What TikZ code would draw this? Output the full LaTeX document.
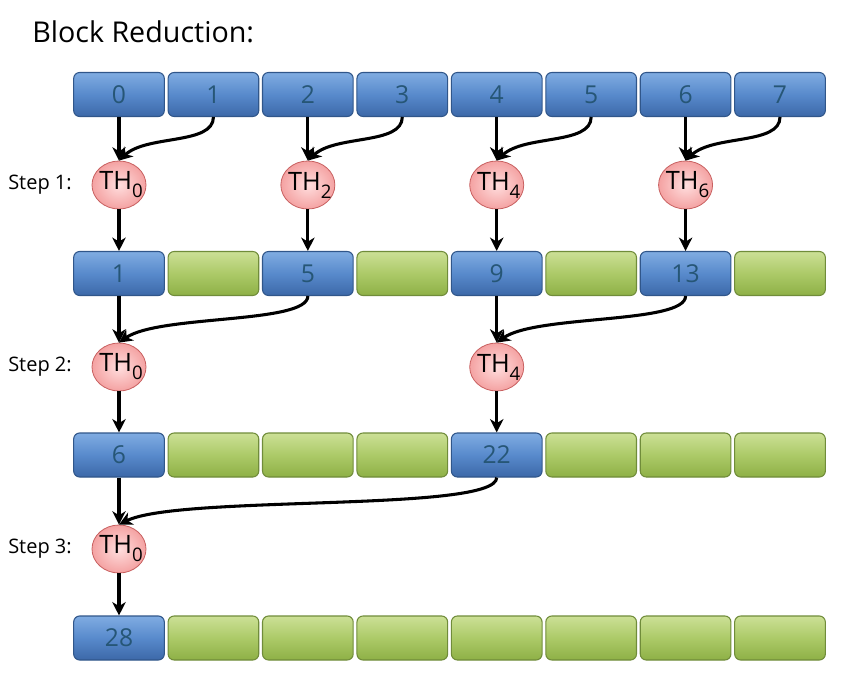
\documentclass[tikz,border=0pt]{standalone}
\usepackage{fontspec}
\setmainfont{Open Sans}
\usetikzlibrary{shapes.geometric,arrows.meta}
\definecolor{bluetop}{RGB}{128,172,226}
\definecolor{bluemid}{RGB}{88,138,204}
\definecolor{bluebot}{RGB}{60,104,168}
\definecolor{bluebd}{RGB}{48,86,138}
\definecolor{greentop}{RGB}{204,224,150}
\definecolor{greenmid}{RGB}{172,202,104}
\definecolor{greenbot}{RGB}{142,176,70}
\definecolor{greenbd}{RGB}{112,140,58}
\definecolor{numcol}{RGB}{38,86,118}
\definecolor{pinkin}{RGB}{255,222,222}
\definecolor{pinkout}{RGB}{244,162,162}
\definecolor{pinkbd}{RGB}{200,96,96}
\newcommand\thlbl[1]{\makebox[0pt]{\hspace*{3pt}TH\raisebox{-6pt}{\fontsize{14}{14}\selectfont #1}}}
\begin{document}
\begin{tikzpicture}[x=0.75pt,y=-0.75pt,
  cellbase/.style={line width=0.8pt, rounded corners=4.5pt, minimum width=68pt,
    minimum height=33pt, inner sep=0pt, font=\fontsize{18.5}{18.5}\selectfont, text=numcol},
  cellblue/.style={cellbase, draw=bluebd, top color=bluetop, bottom color=bluebot, middle color=bluemid},
  cellgreen/.style={cellbase, draw=greenbd, top color=greentop, bottom color=greenbot, middle color=greenmid},
  thread/.style={ellipse, draw=pinkbd, line width=0.6pt, inner color=pinkin, outer color=pinkout,
    minimum width=40.5pt, minimum height=36pt, inner sep=0pt, font=\fontsize{19}{19}\selectfont},
  steplbl/.style={anchor=east, font=\fontsize{15}{15}\selectfont, inner sep=0pt},
  arr/.style={line width=2.3pt, -{Stealth[length=10pt,width=10pt,inset=3pt]}}
]
\useasboundingbox (0,0) rectangle (841,677);
\fill[white] (0,0) rectangle (841,677);

\node[anchor=base west, inner sep=0pt, font=\fontsize{21.5}{21.5}\selectfont] (title) at (32,43) {Block Reduction:};

% row 1
\foreach \i in {0,...,7}
  \node[cellblue] (r1c\i) at (119+94.43*\i, 94.5) {\i};
% row 2
\foreach \i/\s/\v in {0/cellblue/1,1/cellgreen/{},2/cellblue/5,3/cellgreen/{},4/cellblue/9,5/cellgreen/{},6/cellblue/13,7/cellgreen/{}}
  \node[\s] (r2c\i) at (119+94.43*\i, 273.5) {\v};
% row 3
\foreach \i/\s/\v in {0/cellblue/6,1/cellgreen/{},2/cellgreen/{},3/cellgreen/{},4/cellblue/22,5/cellgreen/{},6/cellgreen/{},7/cellgreen/{}}
  \node[\s] (r3c\i) at (119+94.43*\i, 455) {\v};
% row 4
\foreach \i/\s/\v in {0/cellblue/28,1/cellgreen/{},2/cellgreen/{},3/cellgreen/{},4/cellgreen/{},5/cellgreen/{},6/cellgreen/{},7/cellgreen/{}}
  \node[\s] (r4c\i) at (119+94.43*\i, 638) {\v};

% step labels
\node[steplbl] (l1) at (72,185) {Step 1:};
\node[steplbl] (l2) at (72,367) {Step 2:};
\node[steplbl] (l3) at (72,549) {Step 3:};

% threads
\foreach \i in {0,2,4,6}
  \node[thread] (s1t\i) at (119+94.43*\i, 185) {\thlbl{\i}};
\node[thread] (s2t0) at (119, 367) {\thlbl{0}};
\node[thread] (s2t4) at (119+94.43*4, 367) {\thlbl{4}};
\node[thread] (s3t0) at (119, 549) {\thlbl{0}};

% step 1 arrows
\foreach \i/\j in {0/1,2/3,4/5,6/7}{
  \draw[arr] (r1c\i.south) -- (s1t\i.north);
  \draw[arr] (r1c\j.south) .. controls +(0,28) and +(28,-26) .. (s1t\i.north);
  \draw[arr] (s1t\i.south) -- (r2c\i.north);
}
% step 2 arrows
\foreach \i/\j in {0/2,4/6}{
  \draw[arr] (r2c\i.south) -- (s2t\i.north);
  \draw[arr] (r2c\j.south) .. controls +(0,28) and +(40,-28) .. (s2t\i.north);
  \draw[arr] (s2t\i.south) -- (r3c\i.north);
}
% step 3 arrows
\draw[arr] (r3c0.south) -- (s3t0.north);
\draw[arr] (r3c4.south) .. controls +(0,35) and +(60,-30) .. (s3t0.north);
\draw[arr] (s3t0.south) -- (r4c0.north);
\end{tikzpicture}
\end{document}
